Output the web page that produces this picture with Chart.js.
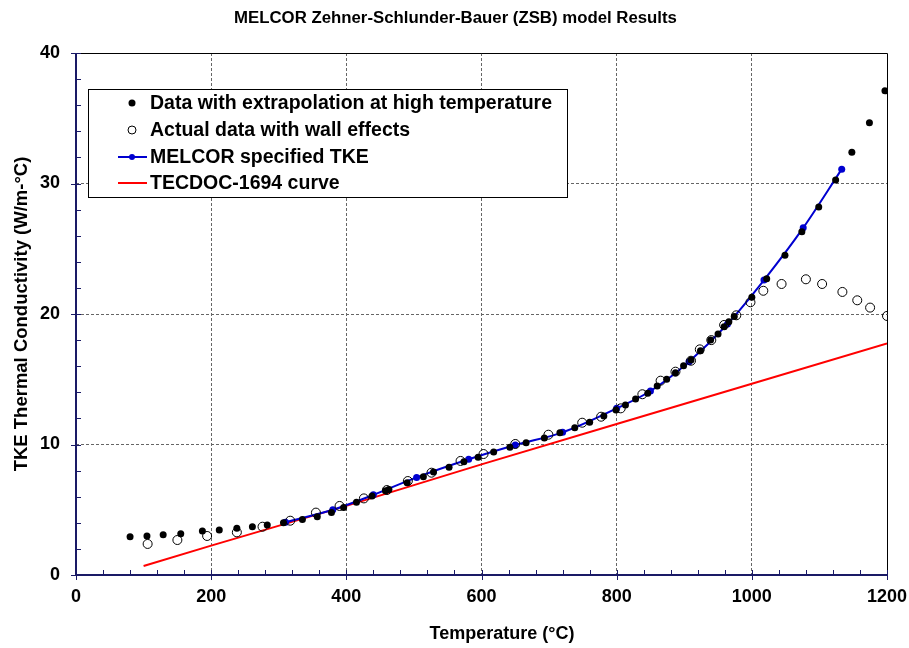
<!DOCTYPE html>
<html lang="en">
<head>
  <meta charset="UTF-8">
  <title>MELCOR ZSB model Results</title>
  <script src="https://cdn.jsdelivr.net/npm/chart.js"></script>
  <style>
    body { margin: 0; background: white; }
    #chart { display: block; }
  </style>
</head>
<body>
<canvas id="chart" width="909" height="648"></canvas>
<script>
// data (temperature in °C, TKE in W/m-°C)
let extrapT = [80, 105, 129, 155, 187, 212, 238, 261, 283, 307, 335, 357, 378, 396, 415, 438, 458, 463, 490, 514,
  529, 552, 574, 595, 618, 642, 666, 693, 716, 738, 760, 781, 799, 813, 828, 846, 860, 874, 887, 899,
  910, 924, 939, 950, 959, 966, 974, 1000, 1022, 1049, 1074, 1099, 1124, 1148, 1174, 1197];
let extrapK = [2.93, 2.99, 3.09, 3.17, 3.37, 3.45, 3.58, 3.70, 3.83, 4.01, 4.26, 4.47, 4.78, 5.18, 5.57, 6.05, 6.46, 6.56, 7.07, 7.53,
  7.89, 8.25, 8.68, 9.02, 9.43, 9.79, 10.14, 10.5, 10.9, 11.29, 11.7, 12.18, 12.64, 13.03, 13.49, 13.92, 14.48, 15.0, 15.5, 16.04,
  16.48, 17.19, 18.0, 18.47, 19.03, 19.41, 19.8, 21.28, 22.7, 24.5, 26.3, 28.2, 30.27, 32.4, 34.66, 37.1];

let actualT = [106, 150, 194, 238, 276, 317, 355, 390, 426, 460, 491, 526, 569, 603, 650, 699, 749, 777, 806, 838,
  865, 887, 910, 923, 940, 959, 977, 998, 1017, 1044, 1080, 1104, 1134, 1156, 1175, 1200];
let actualK = [2.38, 2.68, 2.99, 3.27, 3.70, 4.16, 4.78, 5.29, 5.87, 6.51, 7.2, 7.84, 8.74, 9.27, 10.04, 10.75, 11.67, 12.13, 12.77, 13.85,
  14.89, 15.58, 16.42, 17.29, 18.0, 19.16, 19.9, 20.9, 21.78, 22.3, 22.66, 22.3, 21.69, 21.05, 20.49, 19.85];

let melcorT = [310, 380, 440, 504, 581, 650, 720, 800, 850, 907, 964, 1018, 1076, 1133];
let melcorK = [4.05, 5.0, 6.14, 7.48, 8.87, 9.96, 10.93, 12.77, 14.1, 16.35, 19.23, 22.6, 26.6, 31.1];

let tecdocT = [100, 200, 400, 600, 800, 1000, 1200];
let tecdocK = [0.69, 2.25, 5.3, 8.48, 11.57, 14.65, 17.75];

let legendLabels = ["Data with extrapolation at high temperature", "Actual data with wall effects",
  "MELCOR specified TKE", "TECDOC-1694 curve"];
let chartTitle = "MELCOR Zehner-Schlunder-Bauer (ZSB) model Results";
let xTitle = "Temperature (°C)";

function pts(xs, ys) {
  return xs.map((x, i) => ({ x: x, y: ys[i] }));
}

const FONT = "'Liberation Sans', Arial, sans-serif";
const NAVY = "#1a1a66";
const BLUE = "#0000d0";

// titles, frame, tick marks and the in-plot legend
const decor = {
  id: 'decor',
  afterDraw(chart) {
    const ctx = chart.ctx;
    const a = chart.chartArea;
    const xs = chart.scales.x, ys = chart.scales.y;
    ctx.save();
    ctx.fillStyle = "#000";
    ctx.textAlign = "center";
    ctx.textBaseline = "middle";
    ctx.font = "bold 16.8px " + FONT;
    ctx.fillText(chartTitle, 455.5, 18);
    ctx.font = "bold 18px " + FONT;
    ctx.fillText(xTitle, 502, 634);

    // top/right border
    ctx.strokeStyle = "#000";
    ctx.lineWidth = 1;
    ctx.beginPath();
    ctx.moveTo(a.left, a.top + 0.5); ctx.lineTo(a.right + 0.5, a.top + 0.5); ctx.lineTo(a.right + 0.5, a.bottom);
    ctx.stroke();
    // axes
    ctx.strokeStyle = NAVY;
    ctx.lineWidth = 2;
    ctx.beginPath();
    ctx.moveTo(a.left, a.top); ctx.lineTo(a.left, a.bottom); ctx.lineTo(a.right + 1, a.bottom);
    ctx.stroke();
    ctx.lineWidth = 1;
    ctx.beginPath();
    for (let t = 0; t <= 1200; t += 40) {
      let px = Math.round(xs.getPixelForValue(t)) + 0.5;
      if (t % 200 === 0) { ctx.moveTo(px, a.bottom + 5); ctx.lineTo(px, a.bottom - 5); }
      else { ctx.moveTo(px, a.bottom); ctx.lineTo(px, a.bottom - 5); }
    }
    for (let k = 0; k <= 40; k += 2) {
      let py = Math.round(ys.getPixelForValue(k)) + 0.5;
      if (k % 10 === 0) { ctx.moveTo(a.left - 5, py); ctx.lineTo(a.left + 5, py); }
      else { ctx.moveTo(a.left, py); ctx.lineTo(a.left + 5, py); }
    }
    ctx.stroke();

    // legend
    const bx = 88, by = 89, bw = 479, bh = 108;
    ctx.fillStyle = "#fff";
    ctx.fillRect(bx, by, bw, bh);
    ctx.strokeStyle = "#000";
    ctx.lineWidth = 1;
    ctx.strokeRect(bx + 0.5, by + 0.5, bw, bh);
    const rows = [103, 130, 157, 183];
    ctx.font = "bold 19.5px " + FONT;
    ctx.textAlign = "left";
    rows.forEach((ry, i) => {
      ctx.fillStyle = "#000";
      ctx.fillText(legendLabels[i], 150, ry + 1);
    });
    // markers
    ctx.fillStyle = "#000";
    ctx.beginPath(); ctx.arc(132, rows[0], 3.5, 0, Math.PI * 2); ctx.fill();
    ctx.strokeStyle = "#000";
    ctx.beginPath(); ctx.arc(132, rows[1], 4, 0, Math.PI * 2); ctx.stroke();
    ctx.strokeStyle = BLUE; ctx.lineWidth = 2;
    ctx.beginPath(); ctx.moveTo(118, rows[2]); ctx.lineTo(147, rows[2]); ctx.stroke();
    ctx.fillStyle = BLUE;
    ctx.beginPath(); ctx.arc(132, rows[2], 3, 0, Math.PI * 2); ctx.fill();
    ctx.strokeStyle = "#ff0000";
    ctx.beginPath(); ctx.moveTo(118, rows[3]); ctx.lineTo(147, rows[3]); ctx.stroke();
    ctx.restore();
  }
};

new Chart(document.getElementById('chart'), {
  type: 'scatter',
  data: {
    datasets: [
      {
        label: legendLabels[0], data: pts(extrapT, extrapK), order: 0,
        pointRadius: 3.5, pointBackgroundColor: '#000', pointBorderColor: '#000', pointBorderWidth: 0, showLine: false
      },
      {
        label: legendLabels[1], data: pts(actualT, actualK), order: 1,
        pointRadius: 4.5, pointBackgroundColor: 'rgba(255,255,255,0)', pointBorderColor: '#000', pointBorderWidth: 1, showLine: false
      },
      {
        label: legendLabels[2], data: pts(melcorT, melcorK), order: 2, showLine: true,
        borderColor: BLUE, borderWidth: 2, cubicInterpolationMode: 'monotone',
        pointRadius: 3.5, pointBackgroundColor: BLUE, pointBorderWidth: 0
      },
      {
        label: legendLabels[3], data: pts(tecdocT, tecdocK), order: 3, showLine: true,
        borderColor: '#ff0000', borderWidth: 2, pointRadius: 0
      }
    ]
  },
  options: {
    responsive: false,
    animation: false,
    devicePixelRatio: 1,
    layout: { padding: { left: 0, right: 22, top: 53, bottom: 0 } },
    plugins: {
      legend: { display: false },
      tooltip: { enabled: false },
      title: { display: false }
    },
    scales: {
      x: {
        type: 'linear', min: 0, max: 1200,
        afterFit(s) { s.height = 73; s.paddingLeft = 0; s.paddingRight = 0; },
        ticks: {
          stepSize: 200, color: '#000', padding: 11, font: { family: FONT, size: 18, weight: 'bold' },
          callback: v => String(v)
        },
        grid: {
          drawTicks: false,
          color: c => (c.tick && (c.tick.value === 0 || c.tick.value === 1200)) ? 'rgba(0,0,0,0)' : '#666',
          lineWidth: 1
        },
        border: { display: false, dash: [3, 2] },
        title: { display: false }
      },
      y: {
        type: 'linear', min: 0, max: 40,
        afterFit(s) { s.width = 76; s.paddingTop = 0; s.paddingBottom = 0; },
        ticks: {
          stepSize: 10, color: '#000', padding: 16, font: { family: FONT, size: 18, weight: 'bold' },
          callback: v => String(v)
        },
        grid: {
          drawTicks: false,
          color: c => (c.tick && (c.tick.value === 0 || c.tick.value === 40)) ? 'rgba(0,0,0,0)' : '#666',
          lineWidth: 1
        },
        border: { display: false, dash: [3, 2] },
        title: {
          display: true, text: 'TKE Thermal Conductivity (W/m-°C)', color: '#000',
          font: { family: FONT, size: 18.5, weight: 'bold' }, padding: { top: 11, bottom: 0 }
        }
      }
    }
  },
  plugins: [decor]
});
</script>
</body>
</html>
